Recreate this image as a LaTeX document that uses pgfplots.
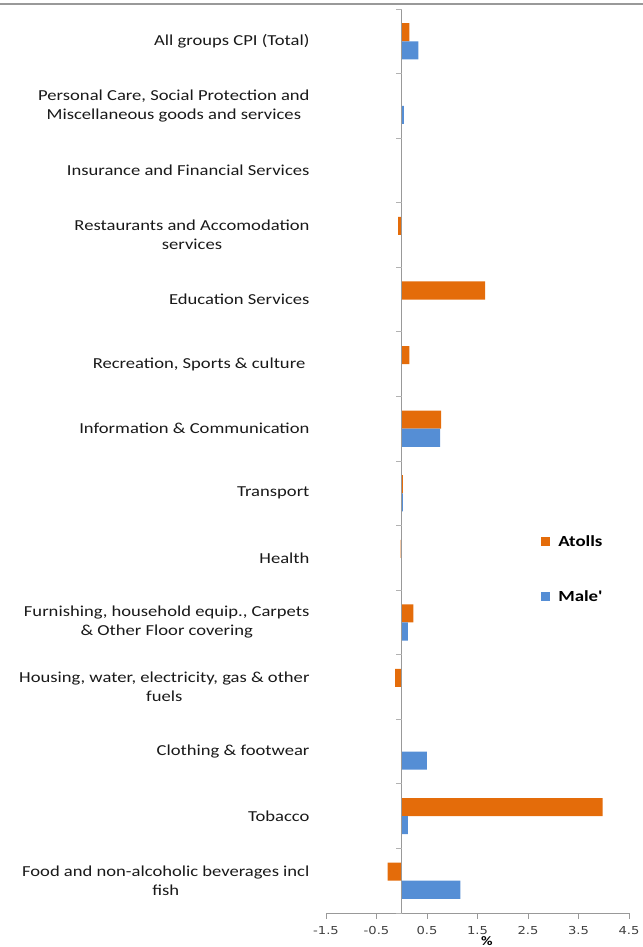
\documentclass[border=0pt]{standalone}
\usepackage{pgfplots}
\pgfplotsset{compat=1.18}
\usepackage{fontspec}
\setmainfont{Carlito}[FakeStretch=1.22]
\newfontfamily\legfont{Carlito}[FakeStretch=1.22]
\newfontfamily\tickfont{DejaVu Sans}[FakeStretch=1.2]
\definecolor{atoll}{RGB}{228,108,10}
\definecolor{male}{RGB}{85,142,213}
\begin{document}
\begin{tikzpicture}
\useasboundingbox (0,0) rectangle (643bp,947bp);
\draw[gray!80, line width=1.2bp] (0,943bp) -- (643bp,943bp);
\begin{axis}[
  at={(326bp,34bp)}, anchor=south west,
  width=303bp, height=904bp, scale only axis,
  xbar, bar width=0.28,
  xmin=-1.5, xmax=4.5, ymin=-0.5, ymax=13.5,
  clip=false,
  separate axis lines,
  axis x line*=bottom, axis y line*=left,
  y axis line style={draw=none},
  x axis line style={gray!80, line width=0.8bp},
  xtick={-1.5,-0.5,0.5,1.5,2.5,3.5,4.5},
  xticklabels={-1.5,-0.5,0.5,1.5,2.5,3.5,4.5},
  x tick style={gray!80, line width=0.8bp},
  major tick length=6bp,
  tick align=outside,
  xticklabel style={font=\tickfont\fontsize{11}{12}\selectfont, text=black!75, anchor=center, yshift=-12bp},
  ytick={0,...,13},
  y tick style={draw=none},
  yticklabel style={font=\fontsize{15.3}{19}\selectfont, align=center, text=black!90, xshift=-7bp},
  yticklabels={
    {Food and non-alcoholic beverages incl\\fish},
    {Tobacco},
    {Clothing \& footwear},
    {Housing, water, electricity, gas \& other\\fuels},
    {Furnishing, household equip., Carpets\\\& Other Floor covering},
    {Health},
    {Transport},
    {Information \& Communication},
    {Recreation, Sports \& culture },
    {Education Services},
    {Restaurants and Accomodation\\services},
    {Insurance and Financial Services},
    {Personal Care, Social Protection and\\Miscellaneous goods and services},
    {All groups CPI (Total)}
  },
  xlabel={\%},
  xlabel style={at={(rel axis cs:0.531,0)}, anchor=center, yshift=-28bp, font=\bfseries\fontsize{13}{15}\selectfont},
  legend style={at={(rel axis cs:0.71,0.420)}, anchor=north west, draw=none, fill=none,
    font=\legfont\bfseries\fontsize{15.5}{18}\selectfont, row sep=39bp, inner sep=0pt},
  legend cell align=left,
  legend image code/.code={\fill[#1,draw=none] (0bp,-4.5bp) rectangle (9bp,4.5bp); \path (15bp,0);},
]
\addplot[fill=atoll, draw=none, bar shift=0.14] coordinates {
  (-0.28,0) (3.98,1) (0,2) (-0.13,3) (0.23,4) (-0.02,5) (0.02,6)
  (0.78,7) (0.15,8) (1.65,9) (-0.07,10) (0,11) (0,12) (0.15,13)
};
\addlegendentry{Atolls}
\addplot[fill=male, draw=none, bar shift=-0.14] coordinates {
  (1.16,0) (0.12,1) (0.50,2) (0,3) (0.12,4) (0,5) (0.02,6)
  (0.76,7) (0,8) (0,9) (0,10) (0,11) (0.04,12) (0.33,13)
};
\addlegendentry{Male'}
\draw[gray!80, line width=0.8bp] (axis cs:0,-0.5) -- (axis cs:0,13.5);
\pgfplotsinvokeforeach{-0.5,0.5,1.5,2.5,3.5,4.5,5.5,6.5,7.5,8.5,9.5,10.5,11.5,12.5,13.5}{
  \draw[gray!60, line width=0.8bp] (axis cs:0,#1) -- ([xshift=-6bp]axis cs:0,#1);
}
\end{axis}
\end{tikzpicture}
\end{document}
